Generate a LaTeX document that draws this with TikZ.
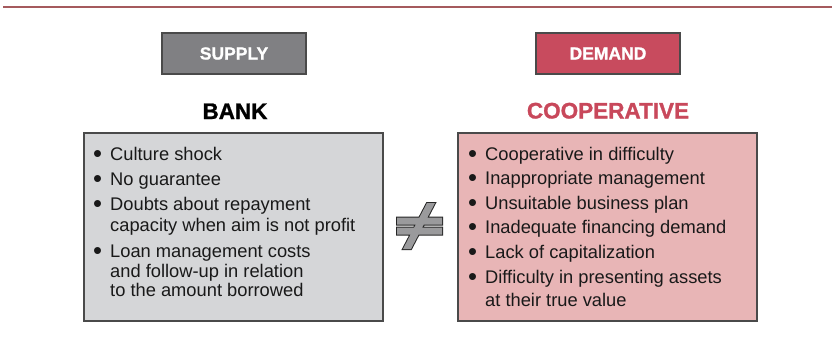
\documentclass[tikz,border=0pt]{standalone}
\usepackage{fontspec}
\setmainfont{Liberation Sans}
\newfontfamily\headfont[FakeBold=1.2]{Liberation Sans Bold}
\definecolor{topline}{HTML}{A55A5D}
\definecolor{supplyfill}{HTML}{808083}
\definecolor{demandfill}{HTML}{C84B5E}
\definecolor{coopred}{HTML}{C8485B}
\definecolor{leftfill}{HTML}{D5D6D8}
\definecolor{rightfill}{HTML}{E8B5B6}
\definecolor{edge}{HTML}{4A4A4A}
\definecolor{neqgray}{HTML}{9A9A9C}
\tikzset{
  headbox/.style={draw=edge, line width=1.3pt, minimum width=144pt, minimum height=41pt, inner sep=0pt,
    text=white, font=\fontsize{17.5}{20}\selectfont\headfont},
  headtitle/.style={anchor=base, inner sep=0pt, font=\fontsize{22.5}{26}\selectfont\headfont},
  listbox/.style={draw=edge, line width=1.3pt, minimum width=299pt, minimum height=188pt, inner sep=0pt},
  itemline/.style={anchor=base west, inner sep=0pt, font=\fontsize{18.3}{21}\selectfont, text=black!90},
}
\newcommand{\bul}{\llap{\raisebox{-2.2pt}{\scalebox{1.4}{\textbullet}}\hspace{8pt}}}
\begin{document}
\begin{tikzpicture}[x=1pt,y=-1pt]
\useasboundingbox (0,0) rectangle (832,349);
% top rule
\coordinate (tl) at (3,7.2);
\coordinate (tr) at (832,7.2);
\draw[topline, line width=2.3pt] (tl) -- (tr);
% header boxes
\node[headbox, fill=supplyfill] (supply) at (234,53.5) {SUPPLY};
\node[headbox, fill=demandfill] (demand) at (608,53.5) {DEMAND};
\node[headtitle] (bank) at (235,119) {BANK};
\node[headtitle, text=coopred] (coop) at (608,118.5) {COOPERATIVE};
% list boxes
\node[listbox, fill=leftfill] (lbox) at (233.5,227) {};
\node[listbox, fill=rightfill] (rbox) at (607.5,227) {};
% left items
\node[itemline] (l1) at (110,160) {\bul Culture shock};
\node[itemline] (l2) at (110,185) {\bul No guarantee};
\node[itemline] (l3) at (110,210.5) {\bul Doubts about repayment};
\node[itemline] (l4) at (110,231) {capacity when aim is not profit};
\node[itemline] (l5) at (110,257) {\bul Loan management costs};
\node[itemline] (l6) at (110,277) {and follow-up in relation};
\node[itemline] (l7) at (110,296.5) {to the amount borrowed};
% right items
\node[itemline] (r1) at (485,160) {\bul Cooperative in difficulty};
\node[itemline] (r2) at (485,184.5) {\bul Inappropriate management};
\node[itemline] (r3) at (485,209) {\bul Unsuitable business plan};
\node[itemline] (r4) at (485,233.5) {\bul Inadequate financing demand};
\node[itemline] (r5) at (485,258.5) {\bul Lack of capitalization};
\node[itemline] (r6) at (485,283) {\bul Difficulty in presenting assets};
\node[itemline] (r7) at (485,306) {at their true value};
% not-equal sign
\def\neqshapes{
  (397,217.5) rectangle (442,224.5)
  (397,227.5) rectangle (442,234.5)
  (403,249) -- (411,249) -- (435,203) -- (427,203) -- cycle}
\draw[black!85, line width=2pt, line join=miter] \neqshapes;
\fill[neqgray] \neqshapes;
\end{tikzpicture}
\end{document}
